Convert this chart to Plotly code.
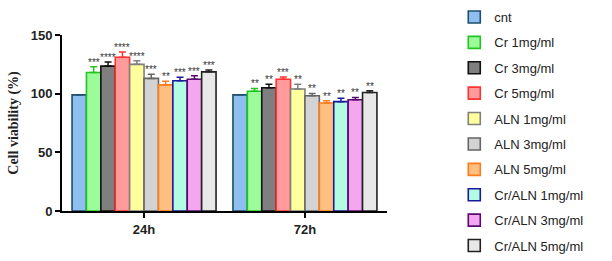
import plotly.graph_objects as go

timepoints = ["24h", "72h"]
groups = ["cnt", "Cr 1mg/ml", "Cr 3mg/ml", "Cr 5mg/ml", "ALN 1mg/ml", "ALN 3mg/ml",
          "ALN 5mg/ml", "Cr/ALN 1mg/ml", "Cr/ALN 3mg/ml", "Cr/ALN 5mg/ml"]
vals_24h = [99, 118, 123.5, 131, 125, 113, 107.5, 111, 112.3, 118.6]
vals_72h = [99, 102, 105, 112.3, 104, 98.2, 92, 93.2, 94.8, 101]
err_24h = [0, 5, 3.5, 4.5, 3, 3.5, 3, 3, 3, 1.5]
err_72h = [0, 2.5, 3, 2, 4, 2, 2, 3, 2, 1.5]
sig_24h = ["", "***", "****", "****", "****", "***", "**", "***", "***", "***"]
sig_72h = ["", "**", "**", "***", "**", "**", "**", "**", "**", "**"]

fills = ["#8fbff0", "#9dfc9a", "#7f7f7f", "#ff9b9b", "#ffff9e", "#d3d3d3",
         "#ffbf80", "#b3fbe3", "#f4a6ee", "#e8e8e8"]
lines = ["#1f4e6e", "#22c422", "#111111", "#ff3333", "#808080", "#666666",
         "#ff7b1c", "#1a1a9e", "#5a0a6e", "#222222"]

bargap = 0.105
n = len(groups)
w = (1 - bargap) / n

fig = go.Figure()
annotations = []
for i, g in enumerate(groups):
    fig.add_trace(go.Bar(
        x=timepoints, y=[vals_24h[i], vals_72h[i]], name=g, legendgroup=g,
        marker=dict(color=fills[i], line=dict(color=lines[i], width=1.6)),
        error_y=dict(type="data", array=[err_24h[i], err_72h[i]],
                     arrayminus=[0, 0], symmetric=False,
                     color=lines[i], thickness=1.5, width=3.5),
    ))
    off = -(1 - bargap) / 2 + (i + 0.5) * w
    for k, (v, e, s) in enumerate([(vals_24h[i], err_24h[i], sig_24h[i]),
                                    (vals_72h[i], err_72h[i], sig_72h[i])]):
        if s:
            annotations.append(dict(
                x=k + off, y=v + e, xref="x", yref="y", text=s, showarrow=False,
                yanchor="bottom", yshift=-3,
                font=dict(family="Arial", size=10, color="#333333")))

fig.update_layout(
    width=612, height=261,
    margin=dict(l=62, r=225, t=20, b=50),
    plot_bgcolor="white", paper_bgcolor="white",
    barmode="group", bargap=bargap, bargroupgap=0,
    showlegend=True,
    legend=dict(x=1.207, y=1.13, xanchor="left", yanchor="top",
                font=dict(family="Arial", size=13, color="#222222"),
                tracegroupgap=5.5, bgcolor="rgba(0,0,0,0)", maxheight=400),
    annotations=annotations,
    xaxis=dict(range=[-0.51, 1.51], showline=True, linecolor="black", linewidth=2,
               ticks="outside", ticklen=5, tickwidth=2, tickcolor="black",
               tickfont=dict(family="Arial", size=13, color="#222222", weight="bold"),
               showgrid=False, zeroline=False, automargin=False),
    yaxis=dict(range=[0, 150], tickvals=[0, 50, 100, 150], showline=True,
               linecolor="black", linewidth=2, ticks="outside", ticklen=5,
               tickwidth=2, tickcolor="black", automargin=False,
               tickfont=dict(family="Arial", size=13, color="#222222", weight="bold"),
               showgrid=False, zeroline=False,
               title=dict(text="<b>Cell viability (%)</b>", standoff=9,
                          font=dict(family="Liberation Serif, Times New Roman", size=14,
                                    color="#222222"))),
)

fig.write_html("out.html")
